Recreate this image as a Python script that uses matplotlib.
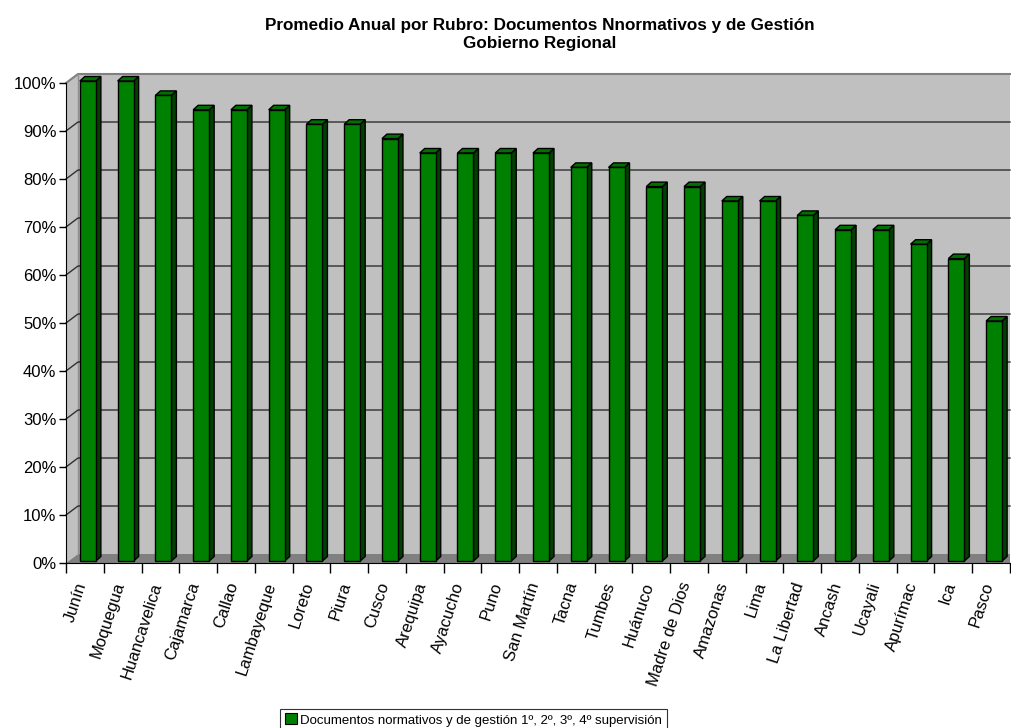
import numpy as np
import matplotlib
matplotlib.use('Agg')
import matplotlib.pyplot as plt
from matplotlib.patches import Polygon, Patch

plt.rcParams['font.family'] = ['Liberation Sans', 'DejaVu Sans']

regions = ['Junín', 'Moquegua', 'Huancavelica', 'Cajamarca', 'Callao', 'Lambayeque',
           'Loreto', 'Piura', 'Cusco', 'Arequipa', 'Ayacucho', 'Puno', 'San Martín',
           'Tacna', 'Tumbes', 'Huánuco', 'Madre de Dios', 'Amazonas', 'Lima',
           'La Libertad', 'Ancash', 'Ucayali', 'Apurímac', 'Ica', 'Pasco']
values = [100, 100, 97, 94, 94, 94, 91, 91, 88, 85, 85, 85, 85,
          82, 82, 78, 78, 75, 75, 72, 69, 69, 66, 63, 50]
yticks = [0, 10, 20, 30, 40, 50, 60, 70, 80, 90, 100]
title = 'Promedio Anual por Rubro: Documentos Nnormativos y de Gestión\nGobierno Regional'
legend_label = 'Documentos normativos y de gestión 1º, 2º, 3º, 4º supervisión'

W, H = 1012, 728
fig = plt.figure(figsize=(W / 100, H / 100), dpi=100)
x0, x1, y0, y1 = 66, 1010, 563, 83
ax = fig.add_axes([x0 / W, 1 - y0 / H, (x1 - x0) / W, (y0 - y1) / H])
n = len(regions)
ax.set_xlim(0, n)
ax.set_ylim(0, 100)

# pixel -> data conversions
px_x = n / (x1 - x0)
px_y = 100 / (y0 - y1)
wdx, wdy = 12 * px_x, 9 * px_y      # wall depth
bdx, bdy = 3 * px_x, 2 * px_y       # bar front offset
ddx, ddy = 5 * px_x, 4.5 * px_y     # bar depth
bw = 16 * px_x

wall = '#c0c0c0'
# back wall, side wall, floor
ax.add_patch(Polygon([(wdx, wdy), (n, wdy), (n, 100 + wdy), (wdx, 100 + wdy)],
                     closed=True, fc=wall, ec='none', clip_on=False, zorder=0))
ax.add_patch(Polygon([(0, 0), (wdx, wdy), (wdx, 100 + wdy), (0, 100)],
                     closed=True, fc=wall, ec='none', clip_on=False, zorder=0))
ax.add_patch(Polygon([(0, 0), (n, 0), (n, wdy), (wdx, wdy)],
                     closed=True, fc='#808080', ec='none', clip_on=False, zorder=0))
# wall borders
ax.plot([0, wdx, n], [100, 100 + wdy, 100 + wdy], color='#808080', lw=1.5,
        clip_on=False, zorder=1)
ax.plot([wdx, wdx], [wdy, 100 + wdy], color='#909090', lw=1, clip_on=False, zorder=1)
# gridlines
for v in yticks[1:-1]:
    ax.plot([0, wdx, n], [v, v + wdy, v + wdy], color='#303030', lw=1,
            clip_on=False, zorder=1)

# bars with pseudo 3D faces
for i, v in enumerate(values):
    xl = i + 0.5 - bw / 2 + bdx
    xr = xl + bw
    yb = bdy
    yt = v + bdy
    ax.add_patch(Polygon([(xr, yb), (xr + ddx, yb + ddy), (xr + ddx, yt + ddy), (xr, yt)],
                         closed=True, fc='#004000', ec='black', lw=1, clip_on=False, zorder=3))
    ax.add_patch(Polygon([(xl, yt), (xr, yt), (xr + ddx, yt + ddy), (xl + ddx, yt + ddy)],
                         closed=True, fc='#007000', ec='black', lw=1, clip_on=False, zorder=3))
    ax.add_patch(Polygon([(xl, yb), (xr, yb), (xr, yt), (xl, yt)],
                         closed=True, fc='#008000', ec='black', lw=1, clip_on=False, zorder=4))

for s in ['top', 'right']:
    ax.spines[s].set_visible(False)
ax.spines['left'].set_color('black')
ax.spines['bottom'].set_color('black')
ax.set_yticks(yticks)
ax.set_yticklabels([f'{v}%' for v in yticks], fontsize=12)
ax.tick_params(axis='y', length=5, width=1, pad=2)
ax.set_xticks(np.arange(n + 1))
ax.set_xticklabels([])
ax.tick_params(axis='x', length=7, width=1)
for i, r in enumerate(regions):
    ax.text(i + 0.62, -3.6, r, rotation=72, ha='right', va='top', fontsize=12)

fig.text(540 / W, 1 - 34.5 / H, title, ha='center', va='center', fontsize=12.3,
         fontweight='bold', linespacing=1.2)

handle = Patch(facecolor='#008000', edgecolor='black', lw=0.8)
leg = fig.legend([handle], [legend_label], loc='center',
                 bbox_to_anchor=(473.5 / W, 1 - 720 / H),
                 fontsize=9.5, frameon=True, fancybox=False, handlelength=0.9,
                 handleheight=0.9, handletextpad=0.25, borderpad=0.35, borderaxespad=0)
leg.get_frame().set_edgecolor('black')
leg.get_frame().set_linewidth(0.8)

fig.savefig('out.png', dpi=100)
